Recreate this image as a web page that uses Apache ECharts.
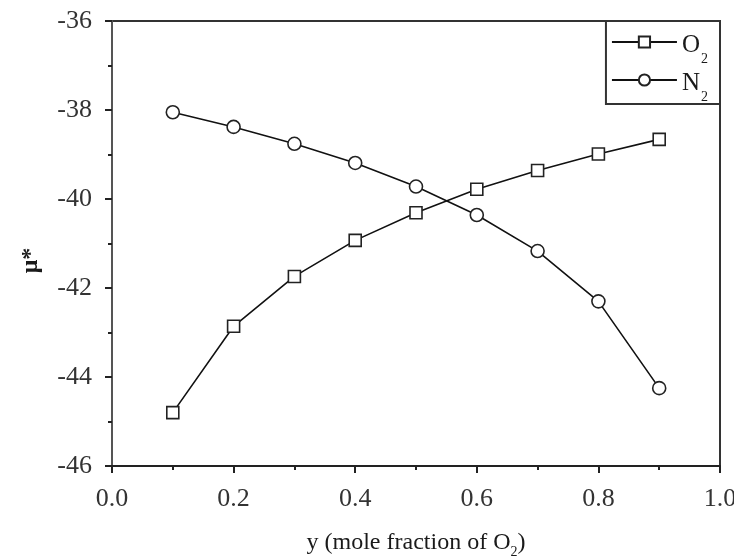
<!DOCTYPE html>
<html>
<head>
<meta charset="utf-8">
<script src="https://cdn.jsdelivr.net/npm/echarts@6/dist/echarts.min.js"></script>
<style>
html,body{margin:0;padding:0;background:#fff;}
#c{width:734px;height:558px;}
</style>
</head>
<body>
<div id="c"></div>
<script>
const xValues = [0.1, 0.2, 0.3, 0.4, 0.5, 0.6, 0.7, 0.8, 0.9];
const o2Values = [-44.80, -42.86, -41.74, -40.93, -40.31, -39.78, -39.36, -38.99, -38.66];
const n2Values = [-38.05, -38.38, -38.76, -39.19, -39.72, -40.36, -41.17, -42.30, -44.25];
const seriesNames = ['O2', 'N2'];
const xTitle = '{a|y (mole fraction of O}{s|2}{a|)}';
const yTitle = 'μ*';

const serif = '"Liberation Serif", "DejaVu Serif", serif';
const ink = '#1a1a1a';

function pairs(vals) { return xValues.map((x, i) => [x, vals[i]]); }

const chart = echarts.init(document.getElementById('c'), null, { renderer: 'canvas' });
chart.setOption({
  animation: false,
  backgroundColor: '#fff',
  grid: { left: 112, right: 14, top: 21, bottom: 92, show: true, borderColor: '#333', borderWidth: 2, outerBoundsMode: 'none', containLabel: false },
  legend: {
    right: 14, top: 21,
    orient: 'vertical',
    data: seriesNames,
    itemWidth: 65, itemHeight: 14, itemGap: 1,
    padding: [8, 12, 0, 5],
    borderColor: '#333', borderWidth: 2,
    backgroundColor: '#fff',
    formatter: n => '{n|' + n.charAt(0) + '}{s|' + n.slice(1) + '}',
    textStyle: {
      color: ink, fontFamily: serif,
      rich: {
        n: { fontSize: 25, fontFamily: serif, color: ink, lineHeight: 26, verticalAlign: 'top', padding: [4, 1, 0, 0] },
        s: { fontSize: 14, fontFamily: serif, color: ink, lineHeight: 14, verticalAlign: 'top', padding: [23, 0, 0, 0] }
      }
    }
  },
  xAxis: {
    type: 'value', min: 0, max: 1, interval: 0.2,
    name: xTitle, nameLocation: 'middle', nameGap: 65,
    nameTextStyle: {
      rich: {
        a: { fontSize: 24, fontFamily: serif, color: ink, lineHeight: 26, verticalAlign: 'top' },
        s: { fontSize: 14, fontFamily: serif, color: ink, lineHeight: 14, verticalAlign: 'top', padding: [14, 0, 0, 0] }
      }
    },
    axisLine: { show: true, onZero: false, lineStyle: { color: '#222', width: 2 } },
    axisTick: { show: true, inside: false, length: 7, lineStyle: { color: '#222', width: 2 } },
    minorTick: { show: true, splitNumber: 2, length: 4, lineStyle: { color: '#222', width: 2 } },
    splitLine: { show: false },
    axisLabel: { fontSize: 26, fontFamily: serif, color: '#333', margin: 20, formatter: v => v.toFixed(1) }
  },
  yAxis: {
    type: 'value', min: -46, max: -36, interval: 2,
    name: yTitle, nameLocation: 'middle', nameGap: 69,
    nameTextStyle: { fontSize: 24, fontWeight: 'bold', fontFamily: serif, color: ink, padding: [0, 34, 0, 0] },
    axisLine: { show: true, onZero: false, lineStyle: { color: '#555', width: 2 } },
    axisTick: { show: true, inside: false, length: 7, lineStyle: { color: '#222', width: 2 } },
    minorTick: { show: true, splitNumber: 2, length: 4, lineStyle: { color: '#222', width: 2 } },
    splitLine: { show: false },
    axisLabel: { fontSize: 26, fontFamily: serif, color: '#333', margin: 20 }
  },
  series: [
    {
      name: seriesNames[0], type: 'line', data: pairs(o2Values),
      symbol: 'rect', symbolSize: 12, showAllSymbol: true,
      lineStyle: { color: '#111', width: 1.6 },
      itemStyle: { color: '#fff', borderColor: '#222', borderWidth: 1.6 }
    },
    {
      name: seriesNames[1], type: 'line', data: pairs(n2Values),
      symbol: 'circle', symbolSize: 13, showAllSymbol: true,
      lineStyle: { color: '#111', width: 1.6 },
      itemStyle: { color: '#fff', borderColor: '#222', borderWidth: 1.6 }
    }
  ]
});
</script>
</body>
</html>
